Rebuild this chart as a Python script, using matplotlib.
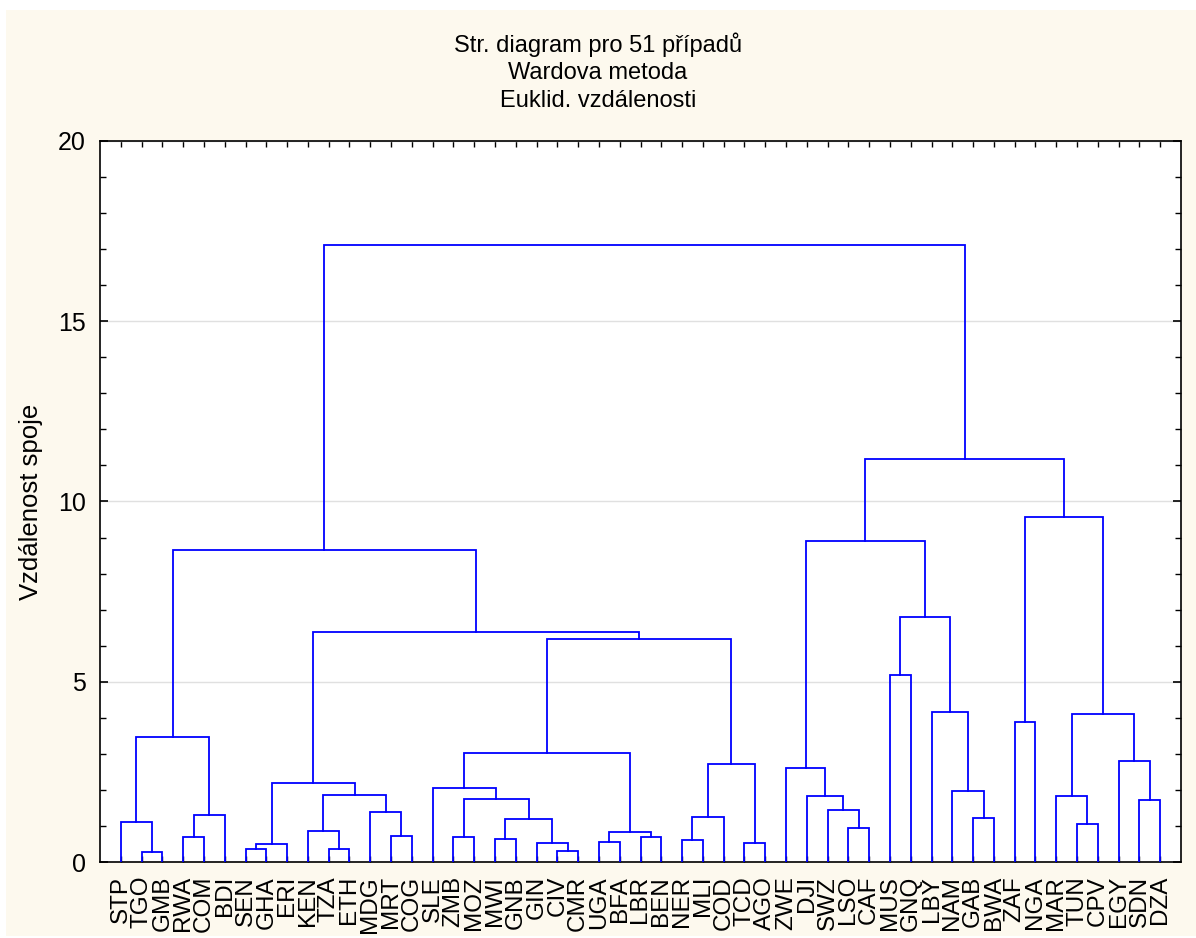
import matplotlib.pyplot as plt
from matplotlib.ticker import MultipleLocator
from matplotlib.patches import Rectangle

plt.rcParams['font.family'] = ['Liberation Sans', 'DejaVu Sans']

# listy v pořadí na ose x
leaves = ['STP', 'TGO', 'GMB', 'RWA', 'COM', 'BDI', 'SEN', 'GHA', 'ERI', 'KEN',
          'TZA', 'ETH', 'MDG', 'MRT', 'COG', 'SLE', 'ZMB', 'MOZ', 'MWI', 'GNB',
          'GIN', 'CIV', 'CMR', 'UGA', 'BFA', 'LBR', 'BEN', 'NER', 'MLI', 'COD',
          'TCD', 'AGO', 'ZWE', 'DJI', 'SWZ', 'LSO', 'CAF', 'MUS', 'GNQ', 'LBY',
          'NAM', 'GAB', 'BWA', 'ZAF', 'NGA', 'MAR', 'TUN', 'CPV', 'EGY', 'SDN',
          'DZA']

# spoje: (levý uzel, pravý uzel) - uzly >= 51 jsou dříve vzniklé shluky
merge_left = [1, 0, 3, 53, 52, 6, 56, 10, 9, 13,
              12, 59, 57, 16, 18, 21, 20, 65, 64, 15,
              23, 25, 71, 70, 27, 75, 30, 76, 74, 63,
              55, 35, 34, 33, 32, 37, 41, 40, 39, 86,
              85, 43, 46, 45, 49, 48, 94, 92, 91, 81]
merge_right = [2, 51, 4, 5, 54, 7, 8, 11, 58, 14,
               60, 61, 62, 17, 19, 22, 66, 67, 68, 69,
               24, 26, 72, 73, 28, 29, 31, 77, 78, 79,
               80, 36, 82, 83, 84, 38, 42, 87, 88, 89,
               90, 44, 47, 93, 50, 95, 96, 97, 98, 99]
# vzdálenost spoje
heights = [0.27, 1.10, 0.70, 1.30, 3.47, 0.37, 0.49, 0.37, 0.87, 0.71,
           1.39, 1.87, 2.19, 0.68, 0.65, 0.31, 0.53, 1.20, 1.75, 2.04,
           0.56, 0.68, 0.84, 3.02, 0.60, 1.25, 0.54, 2.72, 6.19, 6.39,
           8.65, 0.94, 1.43, 1.83, 2.61, 5.19, 1.21, 1.98, 4.17, 6.80,
           8.90, 3.88, 1.05, 1.82, 1.73, 2.80, 4.10, 9.58, 11.19, 17.11]

n = len(leaves)
pos = {i: i + 1 for i in range(n)}
top = {i: 0.0 for i in range(n)}

fig = plt.figure(figsize=(11.96, 9.38), dpi=100)
fig.patch.set_facecolor('white')
fig.patches.append(Rectangle((6 / 1196, 2 / 938), 1 - 6 / 1196, 1 - 12 / 938,
                             transform=fig.transFigure, facecolor='#fdf9ee',
                             edgecolor='none', zorder=-10))

ax = fig.add_axes([100 / 1196, 1 - 862 / 938, 1081 / 1196, 721 / 938])
ax.set_facecolor('white')

for k, (a, b, h) in enumerate(zip(merge_left, merge_right, heights)):
    xa, xb = pos[a], pos[b]
    ax.plot([xa, xa, xb, xb], [top[a], h, h, top[b]], color='#0000ff', lw=1.3,
            solid_joinstyle='miter', zorder=3)
    pos[n + k] = (xa + xb) / 2
    top[n + k] = h

ax.set_xlim(0, n + 1)
ax.set_ylim(0, 20)
ax.set_xticks(range(1, n + 1))
ax.set_xticklabels(leaves, rotation=90, fontsize=17.5)
ax.yaxis.set_major_locator(MultipleLocator(5))
ax.yaxis.set_minor_locator(MultipleLocator(1))
ax.tick_params(axis='x', direction='in', top=True, length=4, width=1, pad=10)
ax.tick_params(axis='y', which='major', direction='in', right=True, length=6,
               width=1.2, labelsize=18, pad=10)
ax.tick_params(axis='y', which='minor', direction='in', right=True, length=4, width=1)
for s in ax.spines.values():
    s.set_linewidth(1.2)
ax.grid(axis='y', which='major', color='#e0e0e0', lw=1, zorder=0)

ax.set_ylabel('Vzdálenost spoje', fontsize=18.5)
ax.yaxis.set_label_coords(-57 / 1081, 0.5)

fig.text(0.5, 1 - 45 / 938, 'Str. diagram pro 51 případů', ha='center', va='center', fontsize=17)
fig.text(0.5, 1 - 73 / 938, 'Wardova metoda', ha='center', va='center', fontsize=17)
fig.text(0.5, 1 - 101 / 938, 'Euklid. vzdálenosti', ha='center', va='center', fontsize=17)

fig.savefig('out.png', dpi=100, facecolor=fig.get_facecolor())
